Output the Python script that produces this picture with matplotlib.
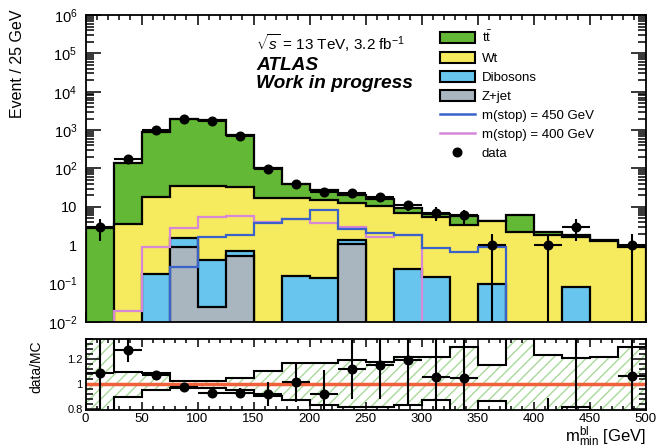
import numpy as np
import matplotlib
matplotlib.use('Agg')
import matplotlib.pyplot as plt
from matplotlib.patches import Patch
from matplotlib.lines import Line2D
from matplotlib.ticker import FixedLocator, MultipleLocator, LogLocator, NullFormatter, FixedFormatter

plt.rcParams['font.family'] = ['Liberation Sans', 'DejaVu Sans']
plt.rcParams['mathtext.fontset'] = 'custom'
plt.rcParams['mathtext.rm'] = 'Liberation Sans'
plt.rcParams['mathtext.it'] = 'Liberation Sans:italic'
plt.rcParams['mathtext.bf'] = 'Liberation Sans:bold'
plt.rcParams['hatch.linewidth'] = 1.0

# ---------------- data ----------------
bin_edges = np.arange(0, 525, 25)
data = np.array([3, 172, 980, 1900, 1730, 705, 97, 40, 25, 23, 18, 11, 7, 6, 1, 0, 1, 3, 0, 1], float)
ttbar = np.array([2.75, 131.4, 897, 1914, 1829, 721, 87.6, 22, 12, 7.7, 5.2, 2.4, 1.1, 2.3, 0.0, 4.1, 0.45, 0.15, 0.07, 0.04])
wt = np.array([0.0, 3.6, 17.5, 34.1, 35.3, 32.9, 17.4, 17.2, 14.9, 11.5, 10.4, 6.56, 5.35, 3.4, 4.1, 2.2, 1.8, 1.57, 1.3, 0.9])
diboson = np.array([0, 0, 0.175, 0.65, 0.39, 0.2, 0, 0.158, 0.137, 0.25, 0, 0.236, 0.152, 0, 0.098, 0, 0, 0.083, 0, 0])
zjet = np.array([0, 0, 0, 0.92, 0.025, 0.52, 0, 0, 0, 1.1, 0, 0, 0, 0, 0, 0, 0, 0, 0, 0])
sig450 = np.array([0, 0, 0, 0.276, 1.6, 1.8, 3.8, 4.7, 8.3, 2.6, 2.1, 1.9, 0.83, 0.65, 0.92, 0, 0, 0, 0, 0])
sig400 = np.array([0, 0.019, 0.92, 2.76, 5.5, 5.7, 4.1, 4.7, 3.7, 3.0, 1.6, 1.8, 0, 0, 0, 0, 0, 0, 0, 0])
band_up = np.array([1.45, 1.10, 1.093, 1.026, 1.026, 1.048, 1.109, 1.168, 1.168, 1.194, 1.173, 1.22, 1.22, 1.30, 1.154, 1.40, 1.234, 1.208, 1.22, 1.30])
band_lo = np.array([0.70, 0.90, 0.954, 0.968, 0.968, 0.954, 0.906, 0.874, 0.834, 0.816, 0.816, 0.834, 0.874, 0.79, 0.866, 0.78, 0.79, 0.816, 0.79, 0.78])

ytick_vals = [1e-2, 1e-1, 1, 10, 1e2, 1e3, 1e4, 1e5, 1e6]
ytick_labels = ['$10^{-2}$', '$10^{-1}$', '1', '10', '$10^{2}$', '$10^{3}$', '$10^{4}$', '$10^{5}$', '$10^{6}$']
rtick_vals = [0.8, 1.0, 1.2]
rtick_labels = ['0.8', '1', '1.2']
xtick_vals = list(range(0, 550, 50))

# ---------------- style ----------------
c_tt = '#63b935'
c_wt = '#f6ea5e'
c_db = '#68c6ee'
c_zj = '#a9b5bf'
c_s450 = '#3b62c8'
c_s400 = '#d687d6'
c_red = '#f0603a'
c_hatch = '#a8d99a'

fig = plt.figure(figsize=(6.57, 4.48), dpi=100)
L = 85.5 / 657
W = 560 / 657
ax = fig.add_axes([L, 126 / 448, W, 307 / 448])
axr = fig.add_axes([L, 38 / 448, W, 71 / 448])

floor = 1e-4
c1 = zjet
c2 = c1 + diboson
c3 = c2 + wt
c4 = c3 + ttbar
for k, (cum, col) in enumerate([(c4, c_tt), (c3, c_wt), (c2, c_db), (c1, c_zj)]):
    v = np.maximum(cum, floor)
    ax.stairs(v, bin_edges, baseline=floor, fill=True, color=col, zorder=2 + 2 * k)
    ax.stairs(v, bin_edges, baseline=floor, fill=False, color='k', lw=1.6, zorder=3 + 2 * k)

ax.stairs(np.maximum(sig400, floor), bin_edges, baseline=floor, color=c_s400, lw=1.6, zorder=12)
ax.stairs(np.maximum(sig450, floor), bin_edges, baseline=floor, color=c_s450, lw=1.6, zorder=13)

centers = 0.5 * (bin_edges[:-1] + bin_edges[1:])
halfw = 0.5 * np.diff(bin_edges)
mask = data > 0
err = np.sqrt(data)
err_lo = np.minimum(err, data - 1e-6)
ax.errorbar(centers[mask], data[mask], xerr=halfw[mask], yerr=[err_lo[mask], err[mask]],
            fmt='o', color='k', ms=6.2, elinewidth=1.5, capsize=0, zorder=20)

ax.set_yscale('log')
ax.set_xlim(0, 500)
ax.set_ylim(1e-2, 1e6)
ax.yaxis.set_major_locator(FixedLocator(ytick_vals))
ax.yaxis.set_major_formatter(FixedFormatter(ytick_labels))
ax.yaxis.set_minor_locator(LogLocator(base=10, subs=np.arange(2, 10)))
ax.yaxis.set_minor_formatter(NullFormatter())
ax.xaxis.set_major_locator(FixedLocator(xtick_vals))
ax.xaxis.set_minor_locator(MultipleLocator(10))
ax.set_xticklabels([])
ax.tick_params(axis='both', which='both', direction='in', top=True, right=True, width=1.1)
ax.tick_params(axis='y', which='major', length=11, labelsize=10.5, pad=6)
ax.tick_params(axis='y', which='minor', length=6)
ax.tick_params(axis='x', which='major', length=7)
ax.tick_params(axis='x', which='minor', length=3.5)
for s in ax.spines.values():
    s.set_linewidth(1.3)
    s.set_zorder(30)

# texts
ax.text(256 / 657, 1 - 43 / 448, r'$\sqrt{s}$ = 13 TeV, 3.2 fb$^{-1}$', transform=fig.transFigure,
        fontsize=11, ha='left', va='center')
ax.text(256 / 657, 1 - 66 / 448, 'ATLAS', transform=fig.transFigure, fontsize=13.8,
        fontweight='bold', fontstyle='italic', ha='left', va='center')
ax.text(256 / 657, 1 - 84 / 448, 'Work in progress', transform=fig.transFigure, fontsize=13.8,
        fontweight='bold', fontstyle='italic', ha='left', va='center')

handles = [
    Patch(facecolor=c_tt, edgecolor='k', lw=1.5),
    Patch(facecolor=c_wt, edgecolor='k', lw=1.5),
    Patch(facecolor=c_db, edgecolor='k', lw=1.5),
    Patch(facecolor=c_zj, edgecolor='k', lw=1.5),
    Line2D([], [], color=c_s450, lw=1.8),
    Line2D([], [], color=c_s400, lw=1.8),
    Line2D([], [], color='k', marker='o', ls='none', ms=6.2),
]
labels = [r'$\mathrm{t\bar{t}}$', 'Wt', 'Dibosons', 'Z+jet', 'm(stop) = 450 GeV', 'm(stop) = 400 GeV', 'data']
ax.legend(handles, labels, loc='upper left', bbox_to_anchor=(440 / 657, 1 - 30 / 448),
          bbox_transform=fig.transFigure, frameon=False, fontsize=9.5, handlelength=2.65,
          handleheight=0.9, handletextpad=0.5, labelspacing=0.46, borderpad=0, borderaxespad=0)

fig.text(18 / 657, 1 - 10 / 448, 'Event / 25 GeV', rotation=90, ha='center', va='top', fontsize=11.5)

# ---------------- ratio panel ----------------
mc = c4
with np.errstate(divide='ignore', invalid='ignore'):
    ratio = np.where(mask, data / mc, np.nan)
    rerr = err / mc
axr.fill_between(bin_edges, np.append(band_lo, band_lo[-1]), np.append(band_up, band_up[-1]),
                 step='post', facecolor='none', edgecolor=c_hatch, hatch='///', lw=0, zorder=1)
axr.stairs(band_up, bin_edges, baseline=None, color='k', lw=1.5, zorder=3)
axr.stairs(band_lo, bin_edges, baseline=None, color='k', lw=1.5, zorder=3)
axr.axhline(1.0, color=c_red, lw=2.5, zorder=4)
axr.errorbar(centers[mask], ratio[mask], xerr=halfw[mask], yerr=rerr[mask], fmt='o', color='k',
             ms=6.2, elinewidth=1.5, capsize=0, zorder=10)
axr.set_xlim(0, 500)
axr.set_ylim(0.795, 1.36)
axr.yaxis.set_major_locator(FixedLocator(rtick_vals))
axr.yaxis.set_major_formatter(FixedFormatter(rtick_labels))
axr.yaxis.set_minor_locator(MultipleLocator(0.04))
axr.xaxis.set_major_locator(FixedLocator(xtick_vals))
axr.xaxis.set_minor_locator(MultipleLocator(10))
axr.tick_params(axis='both', which='both', direction='in', top=True, right=True, width=1.1)
axr.tick_params(axis='y', which='major', length=10, labelsize=8, pad=2)
axr.tick_params(axis='y', which='minor', length=5)
axr.tick_params(axis='x', which='major', length=6, labelsize=9.5, pad=2)
axr.tick_params(axis='x', which='minor', length=3)
for s in axr.spines.values():
    s.set_linewidth(1.3)
    s.set_zorder(30)

fig.text(36 / 657, 1 - 367 / 448, 'data/MC', rotation=90, ha='center', va='center', fontsize=10)
fig.text(646 / 657, 1 - 437 / 448, r'$\mathrm{m}^{\mathrm{bl}}_{\mathrm{min}}$ [GeV]', ha='right',
         va='center', fontsize=12)

fig.savefig('out.png', dpi=100)
